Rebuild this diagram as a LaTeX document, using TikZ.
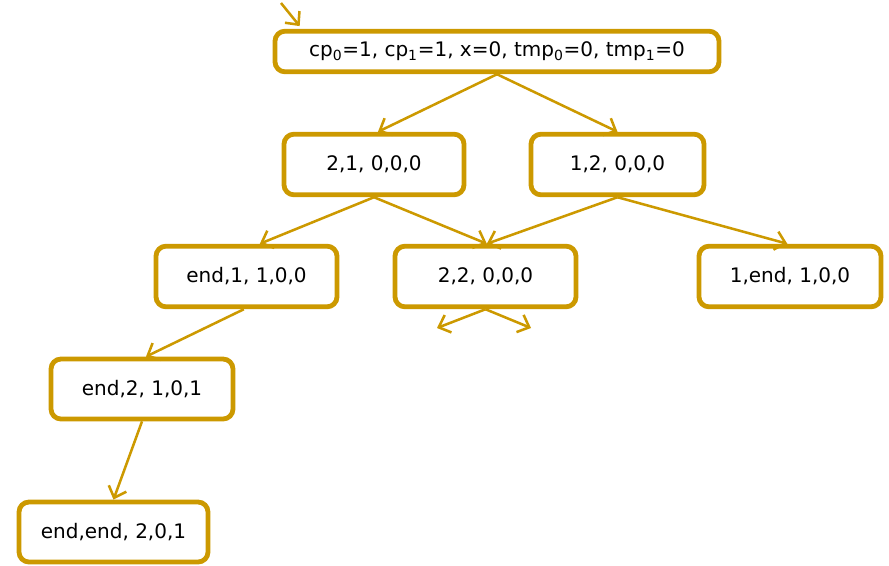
\documentclass[tikz,border=0pt]{standalone}
\usepackage{fontspec}
\setmainfont{DejaVu Sans}
\usetikzlibrary{arrows.meta,calc}
\definecolor{gold}{RGB}{204,153,0}
\begin{document}
\begin{tikzpicture}[x=0.75pt,y=-0.75pt,
  state/.style n args={2}{draw=gold,line width=3.6pt,rounded corners=7.5pt,fill=white,
    minimum width=#1,minimum height=#2,inner sep=0pt,font=\fontsize{15}{17}\selectfont},
  trans/.style={draw=gold,line width=1.9pt,-{Straight Barb[length=7.5pt,width=14pt,line width=1.9pt]}}]
\useasboundingbox (0,0) rectangle (889,565);

% states
\node[state={333pt}{30.5pt}] (s0) at (497,51.5) {cp\textsubscript{0}=1, cp\textsubscript{1}=1, x=0, tmp\textsubscript{0}=0, tmp\textsubscript{1}=0};
\node[state={135pt}{45.5pt}] (s21) at (374,164.5) {2,1, 0,0,0};
\node[state={129.75pt}{45.5pt}] (s12) at (617.5,164.5) {1,2, 0,0,0};
\node[state={135.75pt}{45.5pt}] (se1) at (246.5,276.5) {end,1, 1,0,0};
\node[state={135.75pt}{45.5pt}] (s22) at (485.5,276.5) {2,2, 0,0,0};
\node[state={136.5pt}{45.5pt}] (s1e) at (790,276.5) {1,end, 1,0,0};
\node[state={136.5pt}{45pt}] (se2) at (142,389) {end,2, 1,0,1};
\node[state={141.75pt}{45pt}] (see) at (113.5,532) {end,end, 2,0,1};

% initial arrow and loose ends
\coordinate (init) at (281,3);
\coordinate (out1) at (437,328);
\coordinate (out2) at (531,328);

% transitions
\draw[trans] (init) -- ([xshift=-148pt,yshift=2pt]s0.north);
\draw[trans] (s0.south) -- ([xshift=3pt]s21.north);
\draw[trans] (s0.south) -- (s12.north);
\draw[trans] (s21.south) -- ([xshift=10pt]se1.north);
\draw[trans] (s21.south) -- ([xshift=1pt]s22.north);
\draw[trans] (s12.south) -- ([xshift=1pt]s22.north);
\draw[trans] (s12.south) -- ([xshift=-2pt]s1e.north);
\draw[trans] ([xshift=-2pt]se1.south) -- ([xshift=3pt]se2.north);
\draw[trans] (s22.south) -- (out1);
\draw[trans] (s22.south) -- (out2);
\draw[trans] (se2.south) -- (see.north);
\end{tikzpicture}
\end{document}
